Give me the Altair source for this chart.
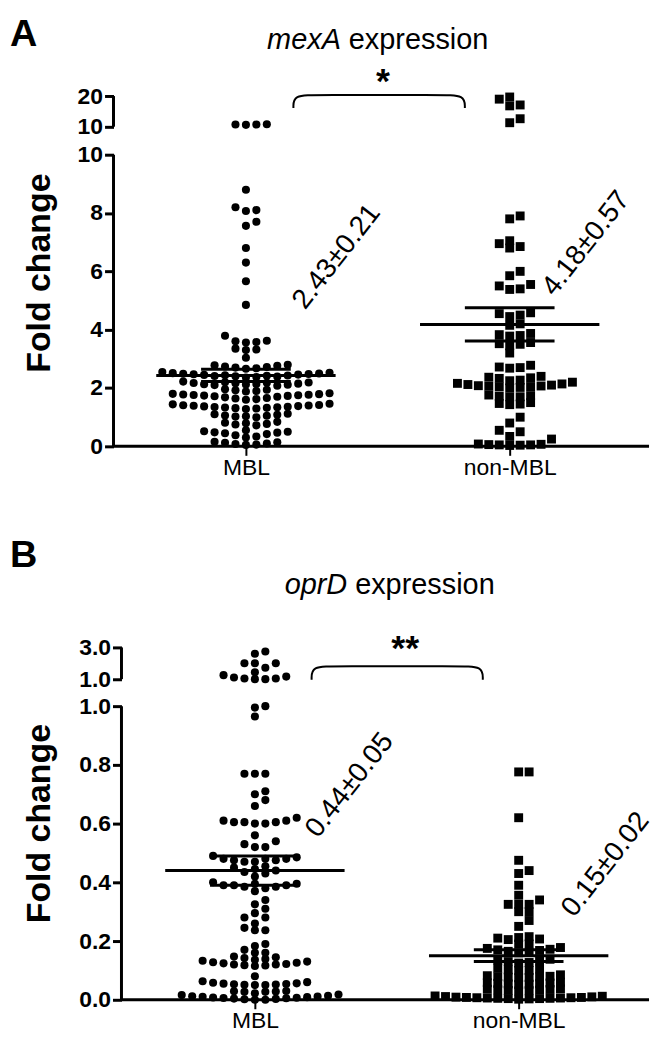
import altair as alt
import pandas as pd

GROUPS = ["MBL", "non-MBL"]

# ---------------- Panel A: mexA expression (fold change) ----------------
MEXA_MBL = [
    0.05, 0.06, 0.08, 0.1, 0.12, 0.14, 0.16, 0.3, 0.34, 0.38, 0.42, 0.45, 0.47, 0.48, 0.5, 0.52, 0.55,
    0.72, 0.75, 0.77, 0.79, 0.81, 0.84,
    1.0, 1.02, 1.03, 1.05, 1.06, 1.08, 1.1, 1.12,
    1.28, 1.3, 1.31, 1.32, 1.33, 1.34, 1.35, 1.36, 1.37, 1.38, 1.39, 1.4, 1.41, 1.42, 1.44, 1.46,
    1.6, 1.62, 1.64, 1.66, 1.68, 1.7, 1.72, 1.73, 1.74, 1.75, 1.76, 1.77, 1.78, 1.79, 1.8, 1.82,
    1.88, 1.9, 1.92, 1.94, 1.96,
    2.08, 2.1, 2.11, 2.12, 2.13, 2.14, 2.15, 2.16, 2.17, 2.18, 2.19, 2.2, 2.22,
    2.36, 2.38, 2.39, 2.4, 2.41, 2.42, 2.43, 2.44, 2.45, 2.46, 2.47, 2.48, 2.49, 2.5, 2.51, 2.52, 2.55,
    2.66, 2.68, 2.7, 2.72, 2.74, 2.76, 2.78, 2.8,
    3.04, 3.3, 3.32, 3.35, 3.56, 3.58, 3.6, 3.62, 3.79,
    4.85, 5.66, 6.3, 6.8, 7.56, 7.7, 8.07, 8.1, 8.2, 8.8,
]
MEXA_MBL_HIGH = [10.6, 10.7, 10.7, 10.8]
MEXA_NON = [
    0.03, 0.04, 0.05, 0.05, 0.06, 0.07, 0.08, 0.25, 0.34, 0.5, 0.55, 0.8, 1.0,
    1.43, 1.45, 1.47, 1.5,
    1.7, 1.7, 1.72, 1.74, 1.76,
    2.0, 2.02, 2.04, 2.05, 2.06, 2.07, 2.08, 2.1, 2.12, 2.14, 2.16, 2.2, 2.25, 2.27,
    2.33, 2.35, 2.37, 2.4,
    2.68, 2.7, 2.72, 2.78,
    3.2, 3.45, 3.5, 3.52, 3.56, 3.78, 3.8, 3.83, 3.87, 4.15, 4.2,
    4.45, 4.5, 4.55, 4.58, 5.38, 5.4, 5.5, 5.55, 5.85, 6.0,
    6.8, 6.85, 6.95, 7.05, 7.8, 7.9,
]
MEXA_NON_HIGH = [11.3, 12.6, 16.8, 17.1, 19.0, 19.7]
MEXA_MEAN = [2.43, 4.18]
MEXA_SEM = [0.21, 0.57]
MEXA_TICKS = [0, 2, 4, 6, 8, 10]
MEXA_BREAK_TICKS = [10, 20]

# ---------------- Panel B: oprD expression (fold change) ----------------
OPRD_MBL = [
    0.0, 0.0, 0.002, 0.003, 0.004, 0.005, 0.006, 0.007, 0.008, 0.009, 0.01, 0.011, 0.012, 0.014, 0.016, 0.018, 0.022,
    0.027, 0.027, 0.028, 0.029, 0.03,
    0.05, 0.05, 0.051, 0.052, 0.053, 0.054, 0.055, 0.056, 0.058, 0.06, 0.063,
    0.08,
    0.115, 0.117, 0.118, 0.12, 0.12, 0.122, 0.124, 0.126, 0.128, 0.13, 0.133, 0.136, 0.139, 0.142, 0.145, 0.147,
    0.16, 0.16, 0.17, 0.183, 0.19,
    0.237, 0.237, 0.245, 0.26, 0.28, 0.28, 0.295, 0.31, 0.325, 0.34, 0.37,
    0.38, 0.385, 0.385, 0.39, 0.39, 0.39, 0.395, 0.395, 0.4,
    0.42, 0.43, 0.435, 0.44, 0.445, 0.45, 0.455,
    0.47, 0.47, 0.475, 0.475, 0.48, 0.48, 0.48, 0.485, 0.49,
    0.52, 0.52, 0.53, 0.54, 0.56,
    0.6, 0.6, 0.605, 0.605, 0.605, 0.61, 0.61, 0.62,
    0.66, 0.68, 0.7, 0.71, 0.77, 0.77, 0.77, 0.965, 0.995, 1.0,
]
OPRD_MBL_HIGH = [1.0, 1.0, 1.04, 1.04, 1.1, 1.16, 1.25, 1.43, 1.72, 2.0, 2.0, 2.0, 2.6, 2.74]
OPRD_NON = [
    0.002, 0.003, 0.004, 0.004, 0.005, 0.005, 0.006, 0.006, 0.007, 0.007, 0.008, 0.008, 0.009, 0.01, 0.011, 0.012, 0.013,
    0.03, 0.031, 0.032, 0.033, 0.034, 0.035, 0.036, 0.037,
    0.052, 0.053, 0.054, 0.055, 0.056, 0.057, 0.058, 0.06,
    0.075, 0.076, 0.077, 0.078, 0.079, 0.08, 0.082, 0.085,
    0.1, 0.1, 0.102, 0.105, 0.108,
    0.125, 0.127, 0.13, 0.132, 0.135, 0.138,
    0.16, 0.162, 0.165, 0.168, 0.17, 0.172, 0.175, 0.178,
    0.19, 0.19, 0.205, 0.207, 0.21, 0.212, 0.215,
    0.25, 0.27, 0.3, 0.3, 0.325, 0.325, 0.325, 0.34, 0.356, 0.39, 0.43, 0.44, 0.475, 0.62, 0.776, 0.776,
]
OPRD_NON_HIGH = []
OPRD_MEAN = [0.44, 0.15]
OPRD_SEM = [0.05, 0.02]
OPRD_TICKS = [0.0, 0.2, 0.4, 0.6, 0.8, 1.0]
OPRD_BREAK_TICKS = [1.0, 3.0]

# ---------------- layout / style ----------------
FONT = "Liberation Sans"
WIDTH = 538
BAND = 265.0          # px per category
STEP = 10.5           # px between neighbouring symbols
MEAN_HW = 0.34        # half width of mean line (category units)
SEM_HW = 0.17


def to_disp(v, brk, seg):
    b0, b1 = brk
    d0, d1 = seg
    return d0 + (v - b0) * (d1 - d0) / (b1 - b0)


def swarm(disp_vals, px, min_dy):
    order = sorted(range(len(disp_vals)), key=lambda i: disp_vals[i])
    cols = {}
    ks = [0] * len(disp_vals)
    cand = [0] + [s * j for j in range(1, 40) for s in (1, -1)]
    for i in order:
        y = disp_vals[i] * px
        for k in cand:
            if all(abs(y - yy) >= min_dy for yy in cols.get(k, [])):
                cols.setdefault(k, []).append(y)
                ks[i] = k
                break
    return ks


def make_panel(letter, gene, lows, highs, means, sems, ticks, brk, seg, px, height,
               xleft, axis_px, fmt, ann_pos, star, star_pos, bracket, title_pos, fold_y,
               min_dy):
    recs = []
    for gi, g in enumerate(GROUPS):
        vals = [(v, v) for v in lows[gi]] + [(v, to_disp(v, brk, seg)) for v in highs[gi]]
        ks = swarm([d for _, d in vals], px, min_dy)
        for (v, dv), k in zip(vals, ks):
            recs.append(dict(group=g, value=v, yd=dv, xpos=gi + k * STEP / BAND))
    pts = pd.DataFrame(recs)

    lines = []
    for gi in range(len(GROUPS)):
        m, s = means[gi], sems[gi]
        lines.append(dict(x1=gi - MEAN_HW, x2=gi + MEAN_HW, y=m))
        lines.append(dict(x1=gi - SEM_HW, x2=gi + SEM_HW, y=m + s))
        lines.append(dict(x1=gi - SEM_HW, x2=gi + SEM_HW, y=m - s))
    lines = pd.DataFrame(lines)

    xs = alt.Scale(domain=[xleft, xleft + WIDTH / BAND], nice=False, zero=False)
    ys = alt.Scale(domain=[0, height / px], nice=False, zero=False)

    xaxis = alt.Axis(values=[0, 1], title=None, domain=False, grid=False,
                     labelExpr=f"datum.value < 0.5 ? '{GROUPS[0]}' : '{GROUPS[1]}'",
                     tickSize=9, tickWidth=2, tickColor="black",
                     labelFont=FONT, labelFontSize=23, labelColor="black", labelPadding=1)

    def lab(v):
        return format(v, fmt)

    yvals = list(ticks) + list(seg)
    lexpr = (f"abs(datum.value - {seg[1]}) < 1e-6 ? '{lab(brk[1])}' : "
             f"abs(datum.value - {seg[0]}) < 1e-6 ? '{lab(brk[0])}' : format(datum.value, '{fmt}')")
    yaxis = alt.Axis(values=yvals, labelExpr=lexpr, title=None, domain=False, grid=False,
                     tickSize=9, tickWidth=3, tickColor="black",
                     labelFont=FONT, labelFontSize=23, labelFontWeight="bold",
                     labelColor="black", labelPadding=2, offset=-axis_px)

    def X(f):
        return alt.X(f"{f}:Q", scale=xs, axis=xaxis)

    def Y(f):
        return alt.Y(f"{f}:Q", scale=ys, axis=yaxis)

    base_pts = alt.Chart(pts)
    layers = [
        base_pts.transform_filter(alt.datum.group == GROUPS[0])
        .mark_point(shape="circle", filled=True, size=66, color="black", opacity=1)
        .encode(x=X("xpos"), y=Y("yd")),
        base_pts.transform_filter(alt.datum.group == GROUPS[1])
        .mark_point(shape="square", filled=True, size=80, color="black", opacity=1)
        .encode(x=X("xpos"), y=Y("yd")),
        alt.Chart(lines).mark_rule(strokeWidth=3, color="black")
        .encode(x=X("x1"), x2="x2", y=Y("y")),
    ]

    segs = pd.DataFrame({"y0": [ticks[0], seg[0]], "y1": [ticks[-1], seg[1]]})
    layers.append(alt.Chart(segs).mark_rule(strokeWidth=3, color="black")
                  .encode(x=alt.value(axis_px), y=Y("y0"), y2="y1"))
    layers.append(alt.Chart(pd.DataFrame({"y": [ticks[0]]})).mark_rule(strokeWidth=3, color="black")
                  .encode(x=alt.value(axis_px), x2=alt.value(WIDTH), y=Y("y")))

    ann = pd.DataFrame({
        "x": [p[0] for p in ann_pos], "y": [p[1] for p in ann_pos],
        "t": [f"{m:.2f}\u00b1{s:.2f}" for m, s in zip(means, sems)],
    })
    layers.append(alt.Chart(ann).mark_text(angle=308, font=FONT, fontSize=28, color="black",
                                           align="center", baseline="middle")
                  .encode(x=X("x"), y=Y("y"), text="t:N"))

    bx1, bx2, byt, byb, r = bracket
    br = pd.DataFrame({
        "bx": [bx1, bx1, bx1 + r, bx2 - r, bx2, bx2],
        "by": [byb, byt, byt, byt, byt, byb],
        "o": list(range(6)),
    })
    layers.append(alt.Chart(br).mark_line(interpolate="basis", strokeWidth=2, color="black")
                  .encode(x=X("bx"), y=Y("by"), order="o:Q"))

    layers.append(alt.Chart(pd.DataFrame({"x": [star_pos[0]], "y": [star_pos[1]], "t": [star]}))
                  .mark_text(font=FONT, fontSize=36, fontWeight="bold", color="black",
                             align="center", baseline="middle")
                  .encode(x=X("x"), y=Y("y"), text="t:N"))

    tx_split, tx_gap, ty = title_pos
    layers.append(alt.Chart(pd.DataFrame({"x": [tx_split], "y": [ty], "t": [gene]}))
                  .mark_text(font=FONT, fontSize=29, fontStyle="italic", color="black",
                             align="right", baseline="middle")
                  .encode(x=X("x"), y=Y("y"), text="t:N"))
    layers.append(alt.Chart(pd.DataFrame({"x": [tx_split + tx_gap], "y": [ty], "t": ["expression"]}))
                  .mark_text(font=FONT, fontSize=29, color="black", align="left", baseline="middle")
                  .encode(x=X("x"), y=Y("y"), text="t:N"))

    layers.append(alt.Chart(pd.DataFrame({"t": [letter]}))
                  .mark_text(font=FONT, fontSize=38, fontWeight="bold", color="black",
                             align="left", baseline="alphabetic")
                  .encode(x=alt.value(-104), y=alt.value(36), text="t:N"))
    layers.append(alt.Chart(pd.DataFrame({"t": ["Fold change"]}))
                  .mark_text(font=FONT, fontSize=34, fontWeight="bold", color="black",
                             angle=270, align="center", baseline="middle")
                  .encode(x=alt.value(-74), y=alt.value(fold_y), text="t:N"))

    return alt.layer(*layers).properties(width=WIDTH, height=height)


panel_a = make_panel(
    "A", "mexA", [MEXA_MBL, MEXA_NON], [MEXA_MBL_HIGH, MEXA_NON_HIGH], MEXA_MEAN, MEXA_SEM,
    MEXA_TICKS, MEXA_BREAK_TICKS, (10.96, 12.01), 29.3, 438, -0.502, 0, "d",
    [(0.345, 6.5), (1.29, 6.95)], "*", (0.52, 12.5), (0.18, 0.83, 12.05, 11.6, 0.09),
    (0.36, 0.03, 13.92), 264, 7,
)
panel_b = make_panel(
    "B", "oprD", [OPRD_MBL, OPRD_NON], [OPRD_MBL_HIGH, OPRD_NON_HIGH], OPRD_MEAN, OPRD_SEM,
    OPRD_TICKS, OPRD_BREAK_TICKS, (1.092, 1.2), 295.0, 471, -0.536, 8, ".1f",
    [(0.36, 0.73), (1.33, 0.46)], "**", (0.57, 1.195), (0.215, 0.864, 1.136, 1.09, 0.09),
    (0.35, 0.03, 1.414), 294, 6,
)

chart = (
    alt.vconcat(panel_a, panel_b, spacing=52)
    .properties(padding={"left": 2, "top": 0, "right": 0, "bottom": 0}, background="white")
    .configure_view(stroke=None)
)

chart.save("out.html", embed_options={"renderer": "svg", "actions": False})
